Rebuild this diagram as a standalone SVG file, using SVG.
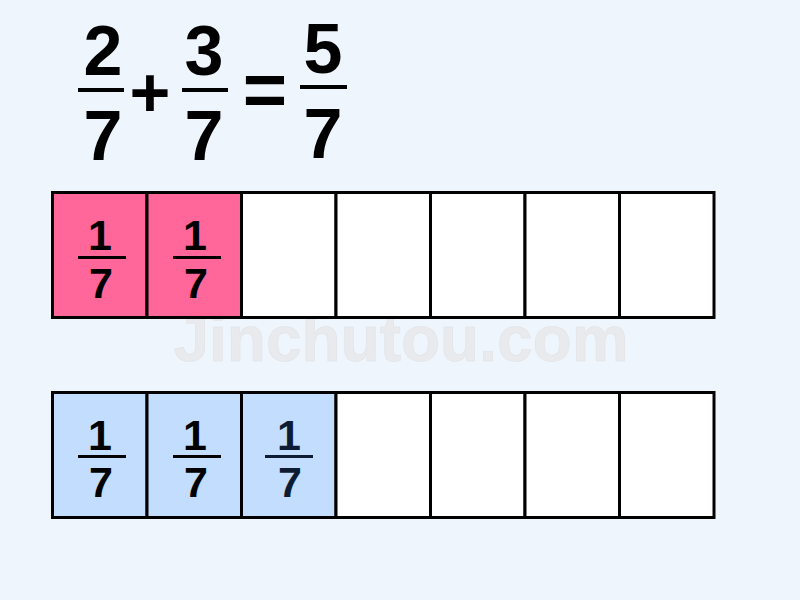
<svg xmlns="http://www.w3.org/2000/svg" width="800" height="600" viewBox="0 0 800 600">
<style>
.t{font-family:"Liberation Sans",Arial,sans-serif;font-weight:bold;text-anchor:middle;fill:#000}
.big{font-size:70px}
.sm{font-size:43px}
.cell{stroke:#000;stroke-width:3}
.pink{fill:#FF6699}
.blue{fill:#C2DDFE}
.white{fill:#fff}
.wm{font-family:"Liberation Sans",Arial,sans-serif;font-weight:bold;font-size:64px;fill:#E9EAED;stroke:#E0E1E4;stroke-width:0.5}
</style>
<rect width="800" height="600" fill="#EEF5FD"/>
<g id="equation">
<text class="t big" x="103" y="75">2</text>
<rect x="78" y="88" width="46" height="4"/>
<text class="t big" x="103" y="160">7</text>
<text class="t big" x="150" y="117">+</text>
<text class="t big" x="204" y="75">3</text>
<rect x="182" y="88" width="46" height="4"/>
<text class="t big" x="204" y="160">7</text>
<text class="t" x="265" y="116" style="font-size:76px">=</text>
<text class="t big" x="323" y="73">5</text>
<rect x="300" y="85" width="47" height="4"/>
<text class="t big" x="323" y="158">7</text>
</g>
<text class="wm" x="401" y="361" text-anchor="middle">Jinchutou.com</text>
<g id="bar1">
<rect class="cell pink" x="52.5" y="192.5" width="94.5" height="125"/>
<rect class="cell pink" x="147" y="192.5" width="94.5" height="125"/>
<rect class="cell white" x="241.5" y="192.5" width="94.5" height="125"/>
<rect class="cell white" x="336" y="192.5" width="94.5" height="125"/>
<rect class="cell white" x="430.5" y="192.5" width="94.5" height="125"/>
<rect class="cell white" x="525" y="192.5" width="94.5" height="125"/>
<rect class="cell white" x="619.5" y="192.5" width="94.5" height="125"/>
<text class="t sm" x="100" y="250">1</text><rect x="78" y="256" width="48" height="3"/><text class="t sm" x="101" y="298">7</text>
<text class="t sm" x="195" y="250">1</text><rect x="173" y="256" width="48" height="3"/><text class="t sm" x="196" y="298">7</text>
</g>
<g id="bar2">
<rect class="cell blue" x="52.5" y="392.5" width="94.5" height="125"/>
<rect class="cell blue" x="147" y="392.5" width="94.5" height="125"/>
<rect class="cell blue" x="241.5" y="392.5" width="94.5" height="125"/>
<rect class="cell white" x="336" y="392.5" width="94.5" height="125"/>
<rect class="cell white" x="430.5" y="392.5" width="94.5" height="125"/>
<rect class="cell white" x="525" y="392.5" width="94.5" height="125"/>
<rect class="cell white" x="619.5" y="392.5" width="94.5" height="125"/>
<text class="t sm" x="100" y="450">1</text><rect x="78" y="455" width="48" height="3"/><text class="t sm" x="101" y="497">7</text>
<text class="t sm" x="195" y="450">1</text><rect x="173" y="455" width="48" height="3"/><text class="t sm" x="196" y="497">7</text>
<text class="t sm" x="289" y="450" style="fill:#0D1B33">1</text><rect x="265" y="455" width="48" height="3" fill="#0D1B33"/><text class="t sm" x="290" y="497" style="fill:#0D1B33">7</text>
</g>
</svg>
